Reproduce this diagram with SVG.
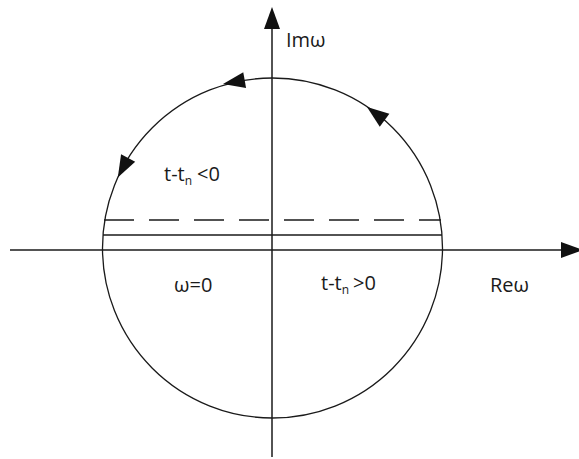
<svg xmlns="http://www.w3.org/2000/svg" xmlns:xlink="http://www.w3.org/1999/xlink" width="579" height="459" viewBox="0 0 579 459">
  <style>
    .ln { stroke: #1a1a1a; stroke-width: 1.5; fill: none; }
    .thin { stroke: #1a1a1a; stroke-width: 1.3; fill: none; }
    .dash { stroke: #1a1a1a; stroke-width: 1.3; fill: none; stroke-dasharray: 30 15; }
    .head { fill: #111; stroke: none; }
    .lbl { font-family: "Open Sans", "Liberation Sans", Arial, sans-serif; font-size: 20px; fill: #1a1a1a; }
    .sub { font-size: 12px; }
  </style>
  <defs>
    <path id="ah" d="M0,0 L-22,-8 L-22,8 Z"/>
  </defs>
  <rect width="579" height="459" fill="#fff"/>

  <g id="axes">
    <line class="ln" x1="10" y1="250" x2="564" y2="250"/>
    <line class="ln" x1="272" y1="28" x2="272" y2="457"/>
    <use xlink:href="#ah" class="head" transform="translate(583,250)"/>
    <use xlink:href="#ah" class="head" transform="translate(272,7) rotate(-90)"/>
  </g>

  <g id="contour">
    <circle class="thin" cx="272.5" cy="248" r="170"/>
    <use xlink:href="#ah" class="head" transform="translate(367,107) rotate(-143)"/>
    <use xlink:href="#ah" class="head" transform="translate(223,84) rotate(170)"/>
    <use xlink:href="#ah" class="head" transform="translate(117.8,177.5) rotate(118)"/>
  </g>

  <g id="strips">
    <line class="dash" x1="104" y1="220" x2="441" y2="220"/>
    <line class="thin" x1="103" y1="235" x2="442" y2="235"/>
  </g>

  <g id="labels">
    <text class="lbl" x="286" y="47">Imω</text>
    <text class="lbl" x="490" y="292">Reω</text>
    <text class="lbl" x="174" y="292">ω=0</text>
    <text class="lbl" x="164" y="181">t-t<tspan class="sub" dy="4">n</tspan><tspan dy="-4" x="197">&lt;0</tspan></text>
    <text class="lbl" x="321" y="290">t-t<tspan class="sub" dy="4">n</tspan><tspan dy="-4" x="353">&gt;0</tspan></text>
  </g>
</svg>
